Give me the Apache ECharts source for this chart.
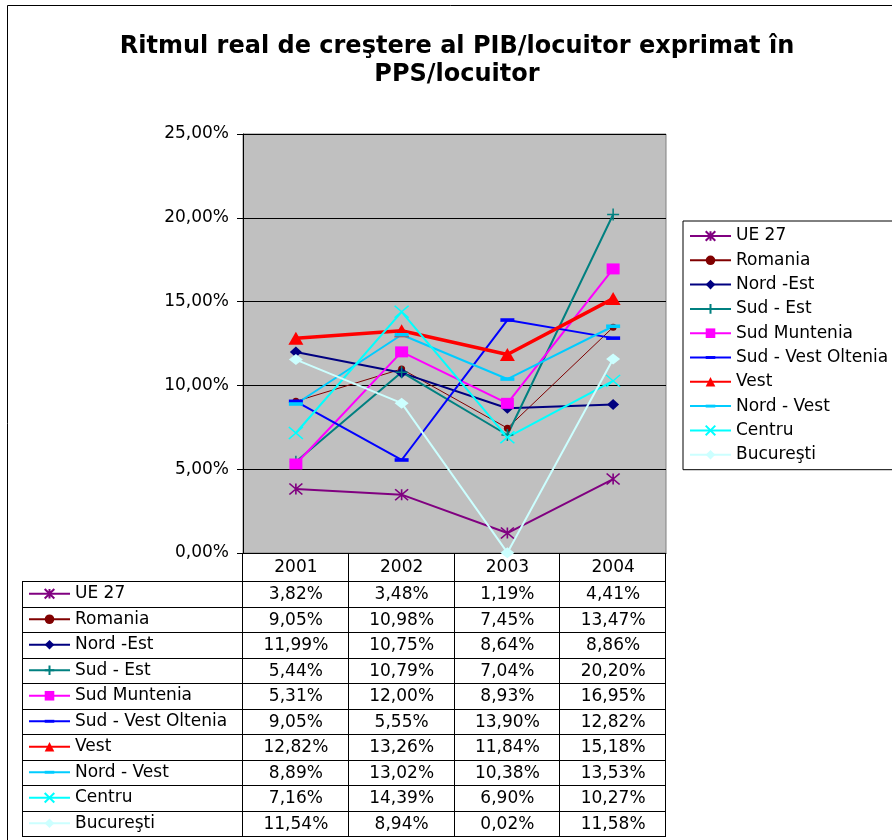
<!DOCTYPE html>
<html>
<head>
<meta charset="utf-8">
<script src="https://cdn.jsdelivr.net/npm/echarts@6/dist/echarts.min.js"></script>
<style>
html, body { margin: 0; padding: 0; background: #fff; }
#chart { width: 892px; height: 840px; }
</style>
</head>
<body>
<div id="chart"></div>
<script>
// date citite din tabel
var years = ['2001', '2002', '2003', '2004'];
var ue27 = [3.82, 3.48, 1.19, 4.41];
var romania = [9.05, 10.98, 7.45, 13.47];
var nordEst = [11.99, 10.75, 8.64, 8.86];
var sudEst = [5.44, 10.79, 7.04, 20.20];
var sudMuntenia = [5.31, 12.00, 8.93, 16.95];
var sudVestOltenia = [9.05, 5.55, 13.90, 12.82];
var vest = [12.82, 13.26, 11.84, 15.18];
var nordVest = [8.89, 13.02, 10.38, 13.53];
var centru = [7.16, 14.39, 6.90, 10.27];
var bucuresti = [11.54, 8.94, 0.02, 11.58];
var yTicks = [0, 5, 10, 15, 20, 25];

var FONT = 'DejaVu Sans';
var FS = 17;
var ASTERISK = 'path://M0,0L10,10M10,0L0,10M5,0L5,10';
var PLUS = 'path://M5,0L5,10M0,5L10,5';
var CROSS = 'path://M0,0L10,10M10,0L0,10';
// liniuta orizontala intr-o cutie patrata (ca sa arate la fel si in legenda)
var DASH = 'path://M0,0M10,10M0,3.5L10,3.5L10,6.5L0,6.5Z';

var lines = [
    {name: 'UE 27', data: ue27, color: '#800080', width: 2, symbol: ASTERISK, size: [13, 11], border: 1.5},
    {name: 'Romania', data: romania, color: '#800000', width: 1, symbol: 'circle', size: 7, border: 0},
    {name: 'Nord -Est', data: nordEst, color: '#000080', width: 2, symbol: 'diamond', size: [12, 11], border: 0},
    {name: 'Sud - Est', data: sudEst, color: '#008080', width: 2, symbol: PLUS, size: [12, 12], border: 1.5},
    {name: 'Sud Muntenia', data: sudMuntenia, color: '#FF00FF', width: 2, symbol: 'rect', size: [13, 11], border: 0},
    {name: 'Sud - Vest Oltenia', data: sudVestOltenia, color: '#0000FF', width: 2, symbol: DASH, size: [14, 12], border: 0},
    {name: 'Vest', data: vest, color: '#FF0000', width: 3.5, symbol: 'triangle', size: [15, 13], border: 0},
    {name: 'Nord - Vest', data: nordVest, color: '#00CCFF', width: 2, symbol: DASH, size: [14, 12], border: 0},
    {name: 'Centru', data: centru, color: '#00FFFF', width: 2, symbol: CROSS, size: [14, 12], border: 1.5},
    {name: 'Bucure\u015fti', data: bucuresti, color: '#CCFFFF', width: 2, symbol: 'diamond', size: [14, 11], border: 0}
];

function pct(v) {
    return v.toFixed(2).replace('.', ',') + '%';
}

var TABLE_LEFT = 22;
var TABLE_TOP = 581;
var ROW_H = 25.5;

var chart = echarts.init(document.getElementById('chart'));

var legendCommon = {
    orient: 'vertical',
    selectedMode: false,
    itemWidth: 41,
    itemHeight: 12,
    textStyle: {fontFamily: FONT, fontSize: FS, color: '#000', lineHeight: 18},
    data: lines.map(function (l) { return l.name; })
};

chart.setOption({
    animation: false,
    backgroundColor: '#fff',
    title: {
        text: 'Ritmul real de cre\u015ftere al PIB/locuitor exprimat \u00een\nPPS/locuitor',
        left: 457,
        top: 33,
        padding: 0,
        textAlign: 'center',
        textStyle: {fontFamily: FONT, fontWeight: 'bold', fontSize: 24, lineHeight: 28, color: '#000'}
    },
    legend: [
        Object.assign({}, legendCommon, {
            left: 683,
            top: 221,
            padding: 6,
            itemGap: 6.3,
            borderColor: '#000',
            borderWidth: 1
        }),
        Object.assign({}, legendCommon, {
            left: 28,
            top: TABLE_TOP + (ROW_H - 18) / 2,
            padding: 0,
            itemGap: ROW_H - 18
        })
    ],
    grid: {
        left: 243,
        top: 134,
        width: 423,
        height: 419,
        show: true,
        backgroundColor: '#C0C0C0',
        borderColor: '#808080',
        borderWidth: 1
    },
    xAxis: {
        type: 'category',
        data: years,
        boundaryGap: true,
        axisLine: {lineStyle: {color: '#000', width: 1}},
        axisTick: {show: false},
        axisLabel: {fontFamily: FONT, fontSize: FS, color: '#000', margin: 6}
    },
    yAxis: {
        type: 'value',
        min: yTicks[0],
        max: yTicks[yTicks.length - 1],
        interval: 5,
        axisLine: {show: true, lineStyle: {color: '#000', width: 1}},
        axisTick: {show: true, length: 6, lineStyle: {color: '#000'}},
        axisLabel: {fontFamily: FONT, fontSize: FS, color: '#000', margin: 14, formatter: pct},
        splitLine: {lineStyle: {color: '#000', width: 1}}
    },
    series: lines.map(function (l) {
        return {
            name: l.name,
            type: 'line',
            data: l.data,
            symbol: l.symbol,
            symbolSize: l.size,
            showAllSymbol: true,
            lineStyle: {color: l.color, width: l.width},
            itemStyle: {color: l.color, borderColor: l.color, borderWidth: l.border},
            emphasis: {disabled: true}
        };
    })
});

// tabelul de date sub grafic
var x0 = chart.convertToPixel({xAxisIndex: 0}, 0);
var band = chart.convertToPixel({xAxisIndex: 0}, 1) - x0;
var axisY = chart.convertToPixel({yAxisIndex: 0}, 0);
var tableRight = x0 + band * (years.length - 0.5);
var tableBottom = TABLE_TOP + ROW_H * lines.length;

function crisp(v) { return Math.round(v) + 0.5; }

var els = [];
els.push({
    type: 'rect',
    shape: {x: 7.5, y: 5.5, width: 1000, height: 1000},
    style: {fill: null, stroke: '#000', lineWidth: 1},
    silent: true
});
for (var k = 0; k <= lines.length; k++) {
    var yy = crisp(TABLE_TOP + k * ROW_H);
    els.push({type: 'line', shape: {x1: TABLE_LEFT, y1: yy, x2: tableRight, y2: yy},
        style: {stroke: '#000', lineWidth: 1}, silent: true});
}
els.push({type: 'line', shape: {x1: crisp(TABLE_LEFT), y1: TABLE_TOP, x2: crisp(TABLE_LEFT), y2: tableBottom},
    style: {stroke: '#000', lineWidth: 1}, silent: true});
for (var c = 0; c <= years.length; c++) {
    var xx = crisp(x0 - band / 2 + c * band) - 1;
    els.push({type: 'line', shape: {x1: xx, y1: axisY, x2: xx, y2: tableBottom},
        style: {stroke: '#000', lineWidth: 1}, silent: true});
}
lines.forEach(function (l, r) {
    l.data.forEach(function (v, i) {
        els.push({
            type: 'text',
            x: x0 + i * band,
            y: TABLE_TOP + (r + 0.5) * ROW_H + 1,
            silent: true,
            style: {text: pct(v), fontFamily: FONT, fontSize: FS, fill: '#000', align: 'center', verticalAlign: 'middle'}
        });
    });
});

chart.setOption({graphic: els});
</script>
</body>
</html>
